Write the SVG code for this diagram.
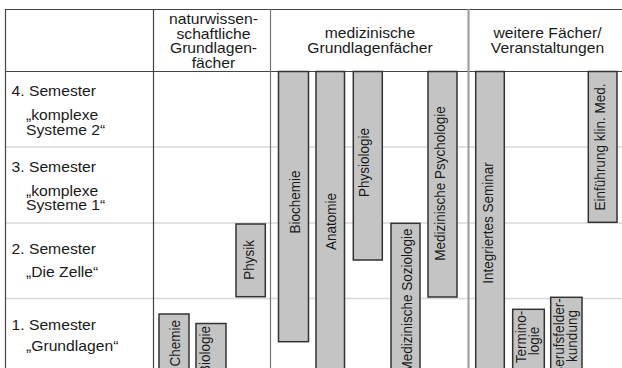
<svg xmlns="http://www.w3.org/2000/svg" width="622" height="368" viewBox="0 0 622 368">
<style>
text{font-family:"Liberation Sans",Arial,sans-serif;fill:#1a1a1a}
.h{font-size:14px}
.hc{font-size:14px;text-anchor:middle}
.v{font-size:13.5px;text-anchor:middle}
.ve{font-size:13.5px;text-anchor:end}
.bar{fill:#c4c4c4;stroke:#333;stroke-width:1.5}
.dark{stroke:#444;stroke-width:1.2;fill:none}
.row{stroke:#d9d9d9;stroke-width:1.5;fill:none}
.mid{stroke:#777;stroke-width:1.2;fill:none}
.sep{stroke:#9a9a9a;stroke-width:2;fill:none}
</style>
<rect width="622" height="368" fill="#fff"/>
<g id="grid">
<line class="row" x1="5" y1="147" x2="622" y2="147"/>
<line class="row" x1="5" y1="223" x2="622" y2="223"/>
<line class="row" x1="5" y1="298.5" x2="622" y2="298.5"/>
<line class="dark" x1="5" y1="9.5" x2="622" y2="9.5"/>
<line class="dark" x1="5" y1="71.5" x2="622" y2="71.5"/>
<line class="dark" x1="5.5" y1="9" x2="5.5" y2="368"/>
<line class="dark" x1="153.5" y1="9" x2="153.5" y2="368"/>
<line class="mid" x1="270.5" y1="9" x2="270.5" y2="368"/>
<line class="sep" x1="468.5" y1="9" x2="468.5" y2="368"/>
</g>
<g id="header-nat">
<text class="hc" transform="translate(213.5,24) scale(1.12,1)">naturwissen-</text>
<text class="hc" transform="translate(213.5,38.5) scale(1.12,1)">schaftliche</text>
<text class="hc" transform="translate(213.5,53) scale(1.12,1)">Grundlagen-</text>
<text class="hc" transform="translate(213.5,67.5) scale(1.12,1)">fächer</text>
</g>
<g id="header-med">
<text class="hc" transform="translate(370,37.5) scale(1.12,1)">medizinische</text>
<text class="hc" transform="translate(370,53) scale(1.12,1)">Grundlagenfächer</text>
</g>
<g id="header-weitere">
<text class="hc" transform="translate(547.5,37.5) scale(1.12,1)">weitere Fächer/</text>
<text class="hc" transform="translate(547.5,53) scale(1.12,1)">Veranstaltungen</text>
</g>
<g id="sem4">
<text class="h" transform="translate(11.5,95.5) scale(1.12,1)">4. Semester</text>
<text class="h" transform="translate(26,120) scale(1.12,1)">„komplexe</text>
<text class="h" transform="translate(26,135) scale(1.12,1)">Systeme 2“</text>
</g>
<g id="sem3">
<text class="h" transform="translate(11.5,172) scale(1.12,1)">3. Semester</text>
<text class="h" transform="translate(26,195.5) scale(1.12,1)">„komplexe</text>
<text class="h" transform="translate(26,210) scale(1.12,1)">Systeme 1“</text>
</g>
<g id="sem2">
<text class="h" transform="translate(11.5,254) scale(1.12,1)">2. Semester</text>
<text class="h" transform="translate(26,277) scale(1.12,1)">„Die Zelle“</text>
</g>
<g id="sem1">
<text class="h" transform="translate(11.5,329.5) scale(1.12,1)">1. Semester</text>
<text class="h" transform="translate(26,351) scale(1.12,1)">„Grundlagen“</text>
</g>
<g id="physik">
<rect class="bar" x="236" y="224" width="29.3" height="72.7"/>
<text class="v" transform="translate(253.5,260) scale(1.12,1) rotate(-90)">Physik</text>
</g>
<g id="chemie">
<rect class="bar" x="159" y="314" width="30" height="70"/>
<text class="ve" transform="translate(180,320) scale(1.12,1) rotate(-90)">Chemie</text>
</g>
<g id="biologie">
<rect class="bar" x="196" y="323.5" width="30" height="60"/>
<text class="ve" transform="translate(210,326) scale(1.12,1) rotate(-90)">Biologie</text>
</g>
<g id="biochemie">
<rect class="bar" x="278.5" y="71.5" width="30" height="270.2"/>
<text class="v" transform="translate(300,202) scale(1.12,1) rotate(-90)">Biochemie</text>
</g>
<g id="anatomie">
<rect class="bar" x="316" y="71.5" width="28.5" height="320"/>
<text class="v" transform="translate(336,221.5) scale(1.12,1) rotate(-90)">Anatomie</text>
</g>
<g id="physiologie">
<rect class="bar" x="353.3" y="71.5" width="29" height="188.5"/>
<text class="v" transform="translate(369,162.5) scale(1.12,1) rotate(-90)">Physiologie</text>
</g>
<g id="med-soziologie">
<rect class="bar" x="391" y="223.3" width="29" height="160"/>
<text class="ve" transform="translate(412,228.5) scale(1.12,1) rotate(-90)">Medizinische Soziologie</text>
</g>
<g id="med-psychologie">
<rect class="bar" x="428" y="71.5" width="29" height="225.5"/>
<text class="v" transform="translate(445,183.5) scale(1.12,1) rotate(-90)">Medizinische Psychologie</text>
</g>
<g id="integriertes-seminar">
<rect class="bar" x="475.7" y="71.5" width="28.6" height="320"/>
<text class="v" transform="translate(493,223) scale(1.12,1) rotate(-90)">Integriertes Seminar</text>
</g>
<g id="terminologie">
<rect class="bar" x="512.7" y="309.3" width="31.6" height="70"/>
<text class="v" transform="translate(526,337) scale(1.12,1) rotate(-90)">Termino-</text>
<text class="v" transform="translate(538.5,341) scale(1.12,1) rotate(-90)">logie</text>
</g>
<g id="berufsfelderkundung">
<rect class="bar" x="550.7" y="297.3" width="31.3" height="80"/>
<text class="v" transform="translate(564,337) scale(1.12,1) rotate(-90)">Berufsfelder-</text>
<text class="v" transform="translate(576.6,336) scale(1.12,1) rotate(-90)">kundung</text>
</g>
<g id="einfuehrung">
<rect class="bar" x="588.3" y="71.5" width="28.7" height="150.8"/>
<text class="v" transform="translate(605,147) scale(1.12,1) rotate(-90)">Einführung klin. Med.</text>
</g>
<g id="connectors"/>
</svg>
